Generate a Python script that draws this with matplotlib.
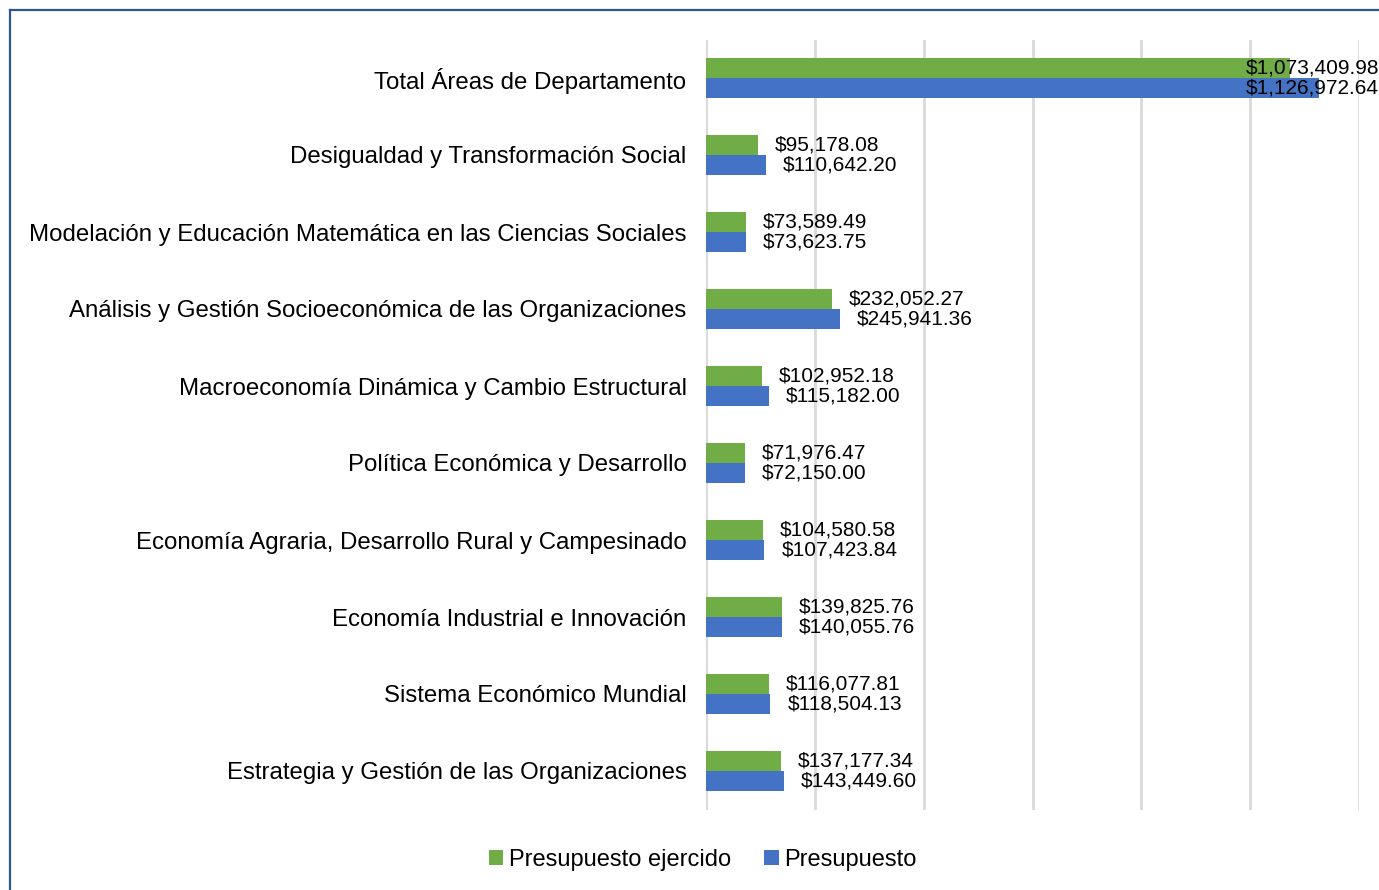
import matplotlib
matplotlib.use('Agg')
import matplotlib.pyplot as plt
import numpy as np

plt.rcParams['font.family'] = ['Liberation Sans', 'DejaVu Sans']

# Datos
categorias = [
    'Total Áreas de Departamento',
    'Desigualdad y Transformación Social',
    'Modelación y Educación Matemática en las Ciencias Sociales',
    'Análisis y Gestión Socioeconómica de las Organizaciones',
    'Macroeconomía Dinámica y Cambio Estructural',
    'Política Económica y Desarrollo',
    'Economía Agraria, Desarrollo Rural y Campesinado',
    'Economía Industrial e Innovación',
    'Sistema Económico Mundial',
    'Estrategia y Gestión de las Organizaciones',
]
ejercido = [1073409.98, 95178.08, 73589.49, 232052.27, 102952.18,
            71976.47, 104580.58, 139825.76, 116077.81, 137177.34]
presupuesto = [1126972.64, 110642.20, 73623.75, 245941.36, 115182.00,
               72150.00, 107423.84, 140055.76, 118504.13, 143449.60]

verde = '#70AD47'
azul = '#4472C4'

fig = plt.figure(figsize=(13.79, 8.9), dpi=100)
ax = fig.add_axes([706 / 1379, 1 - 809.5 / 890, (1359 - 706) / 1379, (809.5 - 39.5) / 890])

y = np.arange(len(categorias))
h = 0.26
ax.barh(y - h / 2, ejercido, height=h, color=verde, label='Presupuesto ejercido', zorder=3)
ax.barh(y + h / 2, presupuesto, height=h, color=azul, label='Presupuesto', zorder=3)

ax.set_xlim(0, 1200000)
ax.set_ylim(len(categorias) - 0.5, -0.5)
ax.set_xticks(np.arange(0, 1200001, 200000))
ax.set_xticklabels([])
ax.set_yticks(y)
ax.set_yticklabels(categorias, fontsize=17.3)
ax.tick_params(axis='both', length=0, pad=14)
ax.grid(axis='x', color='#d9d9d9', linewidth=2, zorder=0)
for s in ax.spines.values():
    s.set_visible(False)

# Etiquetas de datos
xmax_px = 1379
for i in range(len(categorias)):
    for val, off in ((ejercido[i], -h / 2), (presupuesto[i], h / 2)):
        txt = '${:,.2f}'.format(val)
        px = ax.transData.transform((val, 0))[0]
        if px + 17 + 132 > xmax_px:
            ax.annotate(txt, xy=(1, i + off), xycoords=('figure fraction', 'data'),
                        ha='right', va='center', fontsize=15, zorder=5)
        else:
            ax.annotate(txt, xy=(val, i + off), xytext=(17, 0), textcoords='offset pixels',
                        ha='left', va='center', fontsize=15, zorder=5)

fig.legend(loc='center', bbox_to_anchor=(703 / 1379, 1 - 860 / 890), ncol=2, frameon=False,
           fontsize=17, handlelength=0.6, handleheight=0.6, handletextpad=0.25, columnspacing=1.4)

# Marco
borde = '#2F5597'
fig.add_artist(plt.Line2D([10 / 1379, 10 / 1379], [0, 1 - 10 / 890], color=borde, linewidth=1.6,
                          transform=fig.transFigure))
fig.add_artist(plt.Line2D([10 / 1379, 1], [1 - 10 / 890, 1 - 10 / 890], color=borde, linewidth=1.6,
                          transform=fig.transFigure))

plt.savefig('out.png', dpi=100)
